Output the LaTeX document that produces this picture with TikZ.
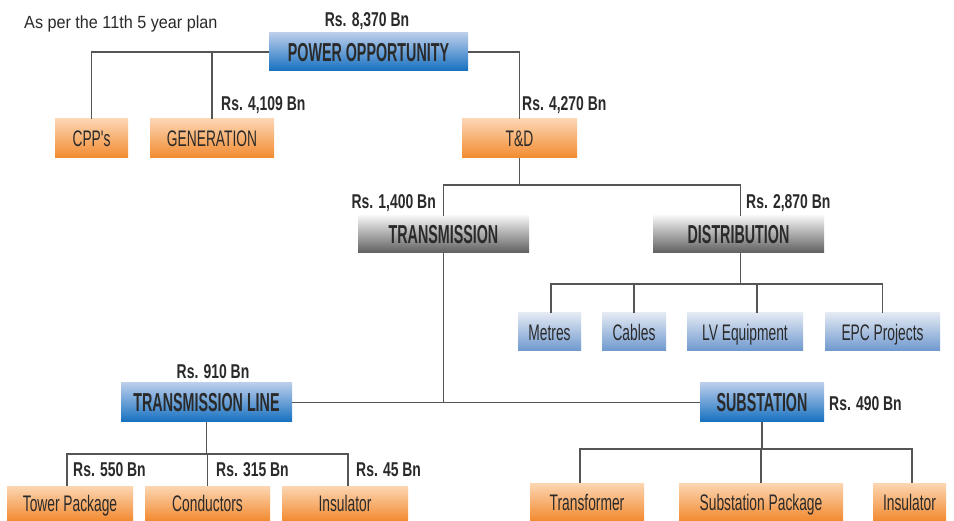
\documentclass[tikz,border=0pt]{standalone}
\usepackage{fontspec}
\setmainfont{Liberation Sans}
\newfontfamily\regbox{Liberation Sans}[FakeStretch=0.613]
\newfontfamily\hdbox{Liberation Sans}[FakeStretch=0.55]
\newfontfamily\lblfont{Liberation Sans}[FakeStretch=0.697]
\newfontfamily\notefont{Liberation Sans}[FakeStretch=0.92]
\usetikzlibrary{calc}
\definecolor{txt}{HTML}{2A2A2A}
\definecolor{ln}{HTML}{555555}
\definecolor{oTop}{HTML}{FCD6B2}
\definecolor{oBot}{HTML}{F28A30}
\definecolor{bTop}{HTML}{BACDEB}
\definecolor{bBot}{HTML}{1570C0}
\definecolor{gTop}{HTML}{F4F4F4}
\definecolor{gBot}{HTML}{5E5E5E}
\definecolor{lTop}{HTML}{E3E9F3}
\definecolor{lBot}{HTML}{6E98CE}
\tikzset{
  base/.style={inner sep=0pt, text=txt, anchor=center, text depth=0pt},
  obox/.style={base, text height=16.1pt, top color=oTop, bottom color=oBot, font=\regbox\fontsize{22.5}{25}\selectfont},
  lbox/.style={base, text height=16.1pt, top color=lTop, bottom color=lBot, font=\regbox\fontsize{22.5}{25}\selectfont},
  bbox/.style={base, text height=18.6pt, top color=bTop, bottom color=bBot, font=\hdbox\bfseries\fontsize{26}{29}\selectfont},
  gbox/.style={base, text height=18.6pt, top color=gTop, bottom color=gBot, font=\hdbox\bfseries\fontsize{26}{29}\selectfont},
  lbl/.style={inner sep=0pt, text=txt, text height=14.3pt, text depth=0pt, font=\lblfont\bfseries\fontsize{20}{22}\selectfont},
  conn/.style={draw=ln, line width=1.4pt},
}
\begin{document}
\begin{tikzpicture}[x=1pt,y=-1pt]
\useasboundingbox[fill=white] (0,0) rectangle (954,521);
% boxes
\node[bbox, minimum width=199, minimum height=38] (po) at (368.5,52) {POWER OPPORTUNITY};
\node[obox, minimum width=73, minimum height=39] (cpp) at (91.5,138.5) {CPP's};
\node[obox, minimum width=124, minimum height=39] (gen) at (212,138.5) {GENERATION};
\node[obox, minimum width=115, minimum height=39] (td) at (519.5,138.5) {T\&D};
\node[gbox, minimum width=171, minimum height=37] (trans) at (443.5,234.5) {TRANSMISSION};
\node[gbox, minimum width=171, minimum height=37] (dist) at (738.5,234.5) {DISTRIBUTION};
\node[lbox, minimum width=63, minimum height=38] (metres) at (549.5,332) {Metres};
\node[lbox, minimum width=64, minimum height=38] (cables) at (634,332) {Cables};
\node[lbox, minimum width=116, minimum height=38] (lv) at (745,332) {LV Equipment};
\node[lbox, minimum width=115, minimum height=38] (epc) at (882.5,332) {EPC Projects};
\node[bbox, minimum width=171, minimum height=39] (tl) at (206.5,402.5) {TRANSMISSION LINE};
\node[bbox, minimum width=124, minimum height=39] (sub) at (762,402.5) {SUBSTATION};
\node[obox, minimum width=126, minimum height=35] (tower) at (70,503.5) {Tower Package};
\node[obox, minimum width=125, minimum height=35] (cond) at (207.5,503.5) {Conductors};
\node[obox, minimum width=126, minimum height=35] (ins1) at (345,503.5) {Insulator};
\node[obox, minimum width=114, minimum height=38] (transf) at (587,502) {Transformer};
\node[obox, minimum width=164, minimum height=38] (subpkg) at (761,502) {Substation Package};
\node[obox, minimum width=73, minimum height=38] (ins2) at (909.5,502) {Insulator};
% labels
\node[inner sep=0pt, anchor=west, text=txt, text height=12.6pt, text depth=0pt, font=\notefont\fontsize{17.6}{19}\selectfont] (note) at (24,22) {As per the 11th 5 year plan};
\node[lbl] (lpo) at (367,19) {Rs. 8,370 Bn};
\node[lbl, anchor=west] (lgen) at (221,103) {Rs. 4,109 Bn};
\node[lbl, anchor=west] (ltd) at (522,103) {Rs. 4,270 Bn};
\node[lbl, anchor=east] (ltrans) at (436,201) {Rs. 1,400 Bn};
\node[lbl, anchor=west] (ldist) at (746,201) {Rs. 2,870 Bn};
\node[lbl] (ltl) at (213,371) {Rs. 910 Bn};
\node[lbl, anchor=west] (lsub) at (829,403) {Rs. 490 Bn};
\node[lbl, anchor=west] (ltower) at (73,469) {Rs. 550 Bn};
\node[lbl, anchor=west] (lcond) at (216,469) {Rs. 315 Bn};
\node[lbl, anchor=west] (lins) at (356,469) {Rs. 45 Bn};
% junctions
\coordinate (j1) at (519.5,185);
\coordinate (j2) at (740.5,284);
\coordinate (j3) at (206.5,454);
\coordinate (j4) at (762,449);
% connectors
\draw[conn] (po.west) -| (cpp.north);
\draw[conn] (gen.north) -- (gen.north |- po.west);
\draw[conn] (po.east) -| (td.north);
\draw[conn] (td.south) -- (j1);
\draw[conn] (trans.north) |- (j1) -| ($(dist.north)+(2,0)$);
\draw[conn] ($(dist.south)+(2,0)$) -- (j2);
\draw[conn] ($(metres.north)+(1.5,0)$) |- (j2) -| (epc.north);
\draw[conn] (cables.north) -- (cables.north |- j2);
\draw[conn] ($(lv.north)+(12,0)$) -- ($(lv.north |- j2)+(12,0)$);
\draw[conn] (trans.south) -- (trans.south |- tl.east);
\draw[conn] (tl.east) -- (sub.west);
\draw[conn] (tl.south) -- (j3);
\draw[conn] ($(tower.north)+(-3,0)$) |- (j3) -| ($(ins1.north)+(3,0)$);
\draw[conn] (cond.north) -- (cond.north |- j3);
\draw[conn] (sub.south) -- (j4);
\draw[conn] ($(transf.north)+(-7,0)$) |- (j4) -| ($(ins2.north)+(2.5,0)$);
\draw[conn] (subpkg.north) -- (subpkg.north |- j4);
\end{tikzpicture}
\end{document}
